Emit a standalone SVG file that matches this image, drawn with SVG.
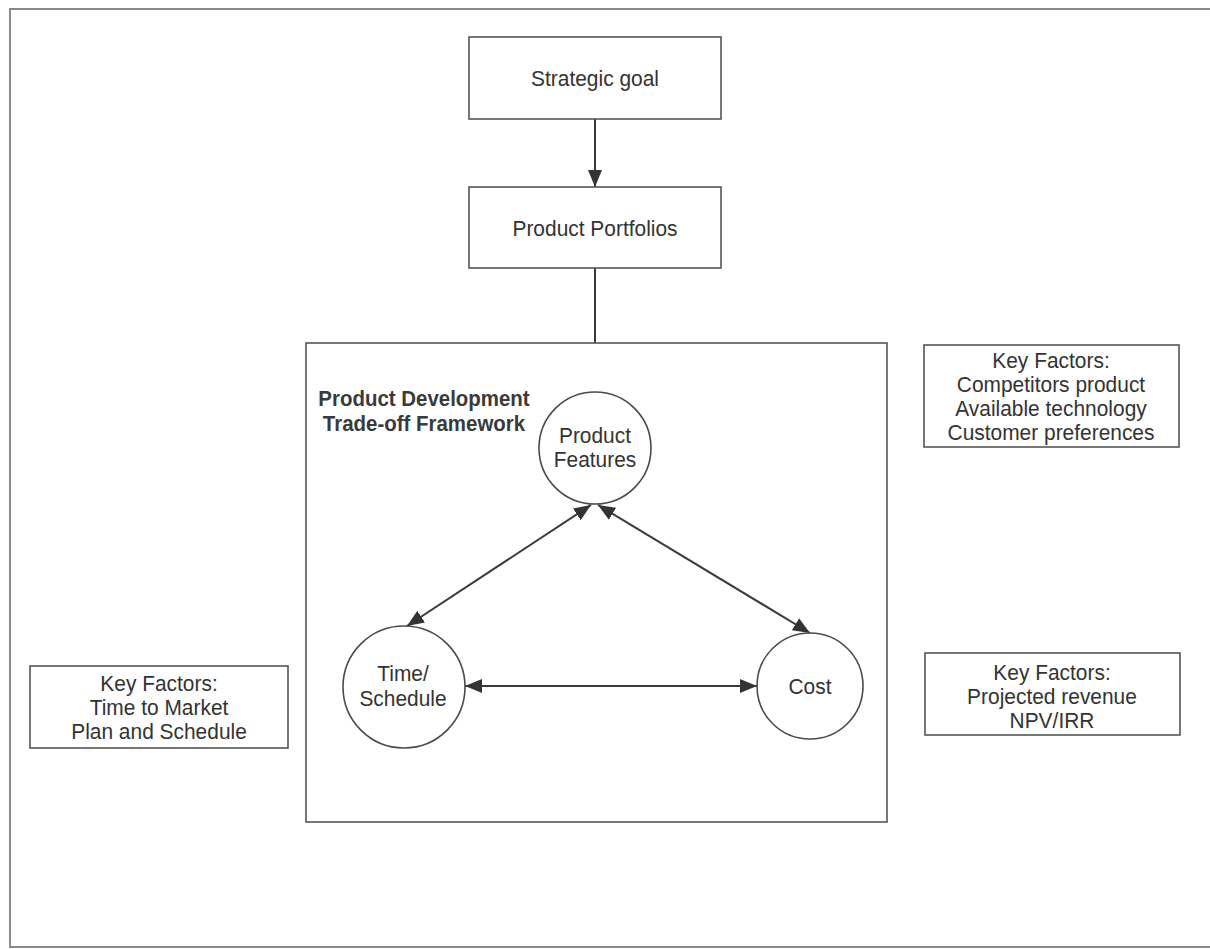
<svg xmlns="http://www.w3.org/2000/svg" width="1210" height="949" viewBox="0 0 1210 949">
  <style>
    .page { fill: #ffffff; }
    .border { fill: none; stroke: #8a8a8a; stroke-width: 2; }
    .box { fill: #ffffff; stroke: #555555; stroke-width: 1.6; }
    .frame { fill: none; stroke: #555555; stroke-width: 1.6; }
    .circle { fill: #ffffff; stroke: #4a4a4a; stroke-width: 1.6; }
    .label, .title {
      font-family: "Liberation Sans", Arial, sans-serif; text-anchor: middle;
      transform-box: fill-box; transform-origin: center; transform: scaleX(0.93);
    }
    .label { font-size: 22.5px; fill: #333333; }
    .title { font-size: 22px; font-weight: bold; fill: #3a3a3a; }
    .link { fill: none; stroke: #3a3a3a; stroke-width: 2; }
  </style>
  <defs>
    <marker id="head" markerUnits="userSpaceOnUse" markerWidth="17" markerHeight="14" viewBox="0 0 17 14" refX="17" refY="7" orient="auto-start-reverse">
      <path d="M0,0 L17,7 L0,14 Z" fill="#333333"/>
    </marker>
  </defs>

  <rect class="page" x="0" y="0" width="1210" height="949"/>
  <!-- page border (right side runs off the sheet) -->
  <rect class="border" x="10" y="9" width="1220" height="938"/>

  <g id="connectors">
    <line class="link" x1="595" y1="119" x2="595" y2="187" marker-end="url(#head)"/>
    <line class="link" x1="595" y1="268" x2="595" y2="343"/>
    <line class="link" x1="591" y1="505" x2="407" y2="626" marker-start="url(#head)" marker-end="url(#head)"/>
    <line class="link" x1="598" y1="505" x2="810" y2="633" marker-start="url(#head)" marker-end="url(#head)"/>
    <line class="link" x1="465" y1="686" x2="757" y2="686" marker-start="url(#head)" marker-end="url(#head)"/>
  </g>

  <g id="strategic-goal">
    <rect class="box" x="469" y="37" width="252" height="82"/>
    <text class="label" x="595" y="86">Strategic goal</text>
  </g>

  <g id="product-portfolios">
    <rect class="box" x="469" y="187" width="252" height="81"/>
    <text class="label" x="595" y="236">Product Portfolios</text>
  </g>

  <g id="trade-off-framework">
    <rect class="frame" x="306" y="343" width="581" height="479"/>
    <text class="title" x="424" y="406">Product Development</text>
    <text class="title" x="424" y="431">Trade-off Framework</text>
  </g>

  <g id="product-features">
    <circle class="circle" cx="595" cy="448" r="56"/>
    <text class="label" x="595" y="443">Product</text>
    <text class="label" x="595" y="467">Features</text>
  </g>

  <g id="time-schedule">
    <circle class="circle" cx="404" cy="687" r="61"/>
    <text class="label" x="403" y="681">Time/</text>
    <text class="label" x="403" y="706">Schedule</text>
  </g>

  <g id="cost">
    <circle class="circle" cx="810" cy="686" r="53"/>
    <text class="label" x="810" y="694">Cost</text>
  </g>

  <g id="factors-features">
    <rect class="box" x="924" y="345" width="255" height="102"/>
    <text class="label" x="1051" y="368">Key Factors:</text>
    <text class="label" x="1051" y="392">Competitors product</text>
    <text class="label" x="1051" y="416">Available technology</text>
    <text class="label" x="1051" y="440">Customer preferences</text>
  </g>

  <g id="factors-cost">
    <rect class="box" x="925" y="653" width="255" height="82"/>
    <text class="label" x="1052" y="680">Key Factors:</text>
    <text class="label" x="1052" y="704">Projected revenue</text>
    <text class="label" x="1052" y="728">NPV/IRR</text>
  </g>

  <g id="factors-time">
    <rect class="box" x="30" y="666" width="258" height="82"/>
    <text class="label" x="159" y="691">Key Factors:</text>
    <text class="label" x="159" y="715">Time to Market</text>
    <text class="label" x="159" y="739">Plan and Schedule</text>
  </g>
</svg>
